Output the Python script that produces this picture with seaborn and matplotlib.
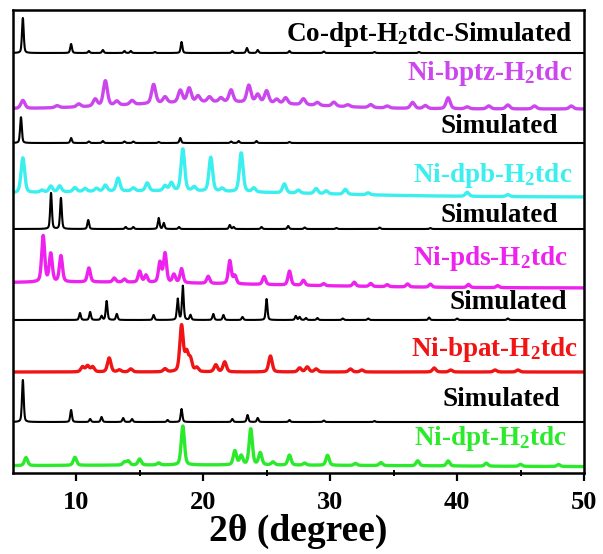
import numpy as np
import pandas as pd
import matplotlib
matplotlib.use("Agg")
import matplotlib.pyplot as plt
import seaborn as sns

# ---- peak lists: (2theta, intensity in a.u.) ----
co_sim_peaks = [(5.8, 35), (9.6, 9), (11.0, 2), (12.1, 3), (13.8, 2), (14.3, 2),
                (16.2, 1), (18.3, 11), (22.3, 2), (23.45, 5), (24.3, 3), (26.8, 2),
                (29.5, 1.5), (33.5, 1), (37.0, 1)]
bptz_peaks = [(5.8, 8), (8.5, 2), (10.2, 3), (11.5, 7), (12.3, 25), (13.2, 4),
              (14.4, 4), (16.1, 19), (17.0, 6), (18.2, 12), (18.9, 14), (19.6, 6),
              (20.5, 5), (21.4, 4), (22.2, 12), (23.6, 17), (24.3, 8), (25.0, 12),
              (25.8, 4), (26.5, 6), (27.9, 6), (29.0, 3), (30.3, 4), (31.4, 2),
              (33.2, 3), (34.5, 2), (36.5, 6), (37.5, 3), (39.3, 11), (40.8, 2),
              (42.5, 3), (44.0, 4), (46.1, 3), (49.0, 3)]
bptz_hump = [(21.0, 7, 16.0)]
sim2_peaks = [(5.65, 26), (9.6, 5), (11.0, 1.5), (12.1, 2), (13.8, 1.5), (14.5, 1.5),
              (16.5, 1), (18.2, 5), (22.2, 1.5), (22.8, 2), (24.2, 2), (26.8, 1)]
dpb_peaks = [(5.8, 35), (7.3, 2), (8.0, 6), (8.7, 6), (9.9, 4), (10.7, 3), (11.6, 3),
             (12.3, 6), (13.3, 13), (14.5, 3), (15.6, 8), (17.0, 5), (17.5, 8),
             (18.4, 42), (19.3, 4), (20.6, 34), (21.5, 3), (23.0, 39), (24.0, 4),
             (26.4, 9), (27.5, 3), (28.9, 5), (29.7, 3), (31.2, 5), (33.0, 2),
             (40.8, 4), (44.0, 2)]
dpb_hump = [(16.0, 6, 28.0)]
sim3_peaks = [(8.02, 36), (8.8, 31), (10.95, 9), (13.9, 2), (14.5, 2), (16.5, 11),
              (16.9, 6), (18.1, 2), (22.1, 4), (22.4, 2), (24.6, 2), (26.7, 3),
              (28.0, 1.5), (30.5, 1), (33.9, 1.5), (37.9, 1)]
pds_peaks = [(7.4, 46), (8.0, 28), (8.8, 26), (11.0, 14), (13.0, 4), (13.8, 3),
             (15.0, 11), (15.5, 7), (16.6, 20), (17.0, 29), (17.7, 8), (18.3, 14),
             (20.4, 7), (22.1, 23), (22.5, 8), (24.8, 8), (26.8, 14), (27.9, 5),
             (29.5, 2), (31.9, 4), (33.2, 3), (34.5, 2), (36.1, 3), (37.9, 3),
             (40.9, 3), (43.2, 2)]
pds_hump = [(10.0, 6, 33.0)]
sim4_peaks = [(10.3, 7), (11.1, 8), (12.0, 4), (12.4, 19), (13.2, 6), (16.1, 5),
              (18.0, 21), (18.4, 34), (19.0, 5), (20.8, 6), (21.6, 5), (23.1, 3),
              (25.0, 21), (27.3, 4), (27.6, 3), (28.1, 2), (29.0, 2), (31.0, 1.5),
              (33.0, 1.5), (37.8, 2.5), (40.0, 1.5), (44.0, 1.5)]
bpat_peaks = [(10.5, 5), (10.9, 6), (11.3, 5), (12.6, 14), (13.4, 2), (14.3, 3),
              (17.0, 3), (18.3, 46), (18.7, 18), (19.0, 12), (19.5, 4), (21.0, 7),
              (21.7, 10), (25.3, 16), (27.6, 4), (28.2, 5), (28.9, 3), (31.6, 3),
              (32.5, 2), (38.2, 4), (39.5, 2), (43.0, 2), (44.8, 2)]
sim5_peaks = [(5.8, 42), (9.6, 12), (11.1, 3), (12.0, 5), (13.7, 4), (14.4, 3),
              (17.2, 2), (18.3, 13), (22.3, 3), (23.5, 7), (24.3, 4), (26.8, 2),
              (29.5, 1.5), (33.5, 1)]
dpt_peaks = [(6.05, 8), (9.9, 8), (13.8, 3), (14.1, 4), (15.0, 6), (16.5, 2),
             (18.4, 39), (22.5, 14), (23.0, 9), (23.75, 36), (24.5, 12), (25.5, 3),
             (26.8, 10), (28.0, 2), (29.8, 10), (32.0, 2), (34.0, 3), (36.9, 5),
             (39.3, 5), (42.3, 3), (45.0, 2), (48.0, 2)]
dpt_hump = [(20.0, 2, 40.0)]

labels = ["Co-dpt-H$_\\mathbf{2}$tdc-Simulated", "Ni-bptz-H$_\\mathbf{2}$tdc", "Simulated",
          "Ni-dpb-H$_\\mathbf{2}$tdc", "Simulated", "Ni-pds-H$_\\mathbf{2}$tdc", "Simulated",
          "Ni-bpat-H$_\\mathbf{2}$tdc", "Simulated", "Ni-dpt-H$_\\mathbf{2}$tdc"]

two_theta = np.arange(5.0, 50.0001, 0.02)


def pattern(peaks, fwhm, humps=()):
    """Pseudo-Voigt peak profile summed over a peak list."""
    y = np.zeros_like(two_theta)
    for pos, h in peaks:
        u = (two_theta - pos) / fwhm
        y += h * (0.6 * np.exp(-4 * np.log(2) * u ** 2) + 0.4 / (1 + 4 * u ** 2))
    for pos, h, w in humps:
        y += h * np.exp(-4 * np.log(2) * ((two_theta - pos) / w) ** 2)
    return y


sns.set_style("ticks")
plt.rcParams["font.family"] = ["Liberation Serif", "DejaVu Serif"]
plt.rcParams["font.weight"] = "bold"
plt.rcParams["mathtext.fontset"] = "custom"
plt.rcParams["mathtext.rm"] = "Liberation Serif:bold"
plt.rcParams["mathtext.bf"] = "Liberation Serif:bold"
plt.rcParams["mathtext.it"] = "Liberation Serif:bold"
for key in ["text.color", "axes.labelcolor", "xtick.color", "ytick.color",
            "axes.edgecolor"]:
    plt.rcParams[key] = "black"

fig = plt.figure(figsize=(6.03, 5.54), dpi=100)
ax = fig.add_axes([12.7 / 603, 1 - 473 / 554, (584 - 12.7) / 603, (473 - 10) / 554])

# (peaks, humps, fwhm, offset, colour, linewidth, label x, label baseline y)
traces = [
    (co_sim_peaks, (), 0.16, 420, "#000000", 1.5, 49.06, 432),
    (bptz_peaks, bptz_hump, 0.38, 364, "#CC46EE", 2.4, 49.06, 393),
    (sim2_peaks, (), 0.16, 330, "#000000", 1.5, 47.96, 340),
    (dpb_peaks, dpb_hump, 0.34, 276, "#3BEFEF", 2.4, 49.06, 291),
    (sim3_peaks, (), 0.16, 244, "#000000", 1.5, 47.96, 251),
    (pds_peaks, pds_hump, 0.28, 185, "#EE22EE", 2.4, 48.7, 208),
    (sim4_peaks, (), 0.16, 153, "#000000", 1.5, 48.66, 164),
    (bpat_peaks, (), 0.32, 101, "#F01414", 2.4, 49.5, 117),
    (sim5_peaks, (), 0.16, 51, "#000000", 1.5, 48.1, 67),
    (dpt_peaks, dpt_hump, 0.30, 6, "#2BEA2B", 2.4, 48.7, 28),
]

for (peaks, humps, fwhm, off, col, lw, lx, ly), lab in zip(traces, labels):
    df = pd.DataFrame({"two_theta": two_theta,
                       "intensity": pattern(peaks, fwhm, humps) + off})
    sns.lineplot(data=df, x="two_theta", y="intensity", ax=ax, color=col, lw=lw,
                 estimator=None, sort=False, errorbar=None)
    ax.text(lx, ly, lab, color=col, fontsize=19.5, fontweight="bold",
            ha="right", va="baseline")

ax.set_xlim(5, 50)
ax.set_ylim(0, 463)
ax.set_xticks([10, 20, 30, 40, 50])
ax.set_xticks([15, 25, 35, 45], minor=True)
ax.set_yticks([])
ax.set_ylabel("")
ax.set_xlabel("2θ (degree)", fontsize=27, fontweight="bold", labelpad=0,
              color="black")
ax.tick_params(axis="x", which="major", direction="out", length=6, width=1.6,
               labelsize=19, pad=7, colors="black")
ax.tick_params(axis="x", which="minor", direction="inout", length=5, width=1.4,
               colors="black")
for lbl in ax.get_xticklabels():
    lbl.set_fontweight("bold")
for sp in ax.spines.values():
    sp.set_linewidth(1.8)
    sp.set_color("black")
    sp.set_visible(True)

fig.savefig("out.png", dpi=100)
